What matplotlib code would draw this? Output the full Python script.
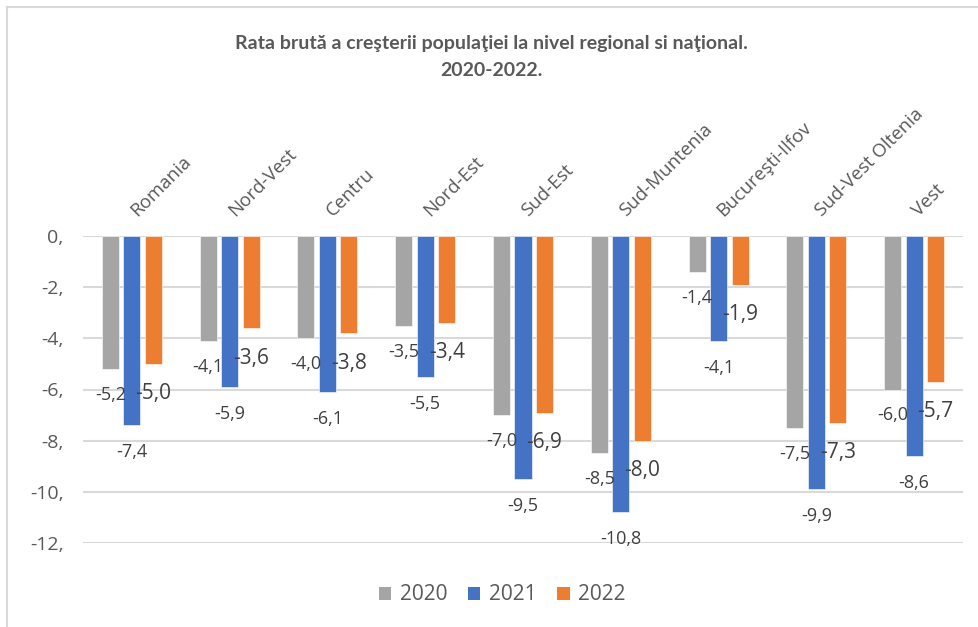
import numpy as np
import matplotlib
matplotlib.use("Agg")
import matplotlib.pyplot as plt
from matplotlib.lines import Line2D
from matplotlib.patches import Patch

# Regions and crude population growth rates (per 1000 inhabitants)
regions = ["Romania", "Nord-Vest", "Centru", "Nord-Est", "Sud-Est",
           "Sud-Muntenia", "Bucureşti-Ilfov", "Sud-Vest Oltenia", "Vest"]
years = ["2020", "2021", "2022"]
rate_2020 = [-5.2, -4.1, -4.0, -3.5, -7.0, -8.5, -1.4, -7.5, -6.0]
rate_2021 = [-7.4, -5.9, -6.1, -5.5, -9.5, -10.8, -4.1, -9.9, -8.6]
rate_2022 = [-5.0, -3.6, -3.8, -3.4, -6.9, -8.0, -1.9, -7.3, -5.7]
y_ticks = [0, -2, -4, -6, -8, -10, -12]
y_tick_labels = ["0,", "-2,", "-4,", "-6,", "-8,", "-10,", "-12,"]

title = ("Rata brută a creşterii populaţiei la nivel regional si naţional.\n"
         "2020-2022.")

colors = ["#A5A5A5", "#4472C4", "#ED7D31"]
text_color = "#595959"
grid_color = "#D9D9D9"
font = ["Open Sans", "DejaVu Sans"]
plt.rcParams["font.family"] = font

fig = plt.figure(figsize=(9.79, 6.27), dpi=100)
ax = fig.add_axes([83 / 979, 1 - 543 / 627, 880 / 979, (543 - 236) / 627])

x = np.arange(len(regions))
width = 0.174
offsets = [-0.22, 0.0, 0.22]
series = [rate_2020, rate_2021, rate_2022]
label_sizes = [13, 13, 15]
label_gaps = [26, 27, 30]

for vals, off, col, fs, gap in zip(series, offsets, colors, label_sizes, label_gaps):
    bars = ax.bar(x + off, vals, width=width, color=col, zorder=3,
                  edgecolor="white", linewidth=0.4)
    for b, v in zip(bars, vals):
        ax.annotate(f"{v:.1f}".replace(".", ","),
                    xy=(b.get_x() + b.get_width() / 2, v),
                    xytext=(0, -gap), textcoords="offset pixels",
                    ha="center", va="center", fontsize=fs,
                    color="#404040", zorder=5)

ax.set_xlim(-0.5, len(regions) - 0.5)
ax.set_ylim(-12, 0)
ax.set_yticks(y_ticks)
ax.set_yticklabels(y_tick_labels, fontsize=14, color=text_color)
ax.tick_params(axis="y", length=0, pad=14)
ax.set_xticks([])
ax.grid(axis="y", color=grid_color, linewidth=1.5, zorder=0)
for s in ax.spines.values():
    s.set_visible(False)
ax.axhline(0, color=grid_color, linewidth=1.5, zorder=1)

# Category names above the zero line, rotated
for xi, name in zip(x, regions):
    ax.annotate(name, xy=(xi, 0), xytext=(8, 16), textcoords="offset pixels",
                rotation=45, rotation_mode="anchor", ha="left", va="bottom",
                fontsize=13.5, color=text_color)

fig.text(0.502, 1 - 57 / 627, title, ha="center", va="center",
         fontsize=14, fontweight="bold", color=text_color,
         family=["Lato", "DejaVu Sans"], linespacing=1.7)

handles = [Patch(facecolor=c, edgecolor="none") for c in colors]
fig.legend(handles, years, loc="center", bbox_to_anchor=(0.513, 1 - 595 / 627),
           ncol=3, frameon=False, fontsize=15, labelcolor=text_color,
           handlelength=0.6, handleheight=0.6, handletextpad=0.4,
           columnspacing=1.0)

# Chart frame (left and top edges)
fig.add_artist(Line2D([7 / 979, 7 / 979], [0, 1 - 7 / 627], color="#D9D9D9",
                      linewidth=1.5, transform=fig.transFigure))
fig.add_artist(Line2D([7 / 979, 1], [1 - 7 / 627, 1 - 7 / 627], color="#D9D9D9",
                      linewidth=1.5, transform=fig.transFigure))

fig.savefig("out.png", dpi=100, facecolor="white")
